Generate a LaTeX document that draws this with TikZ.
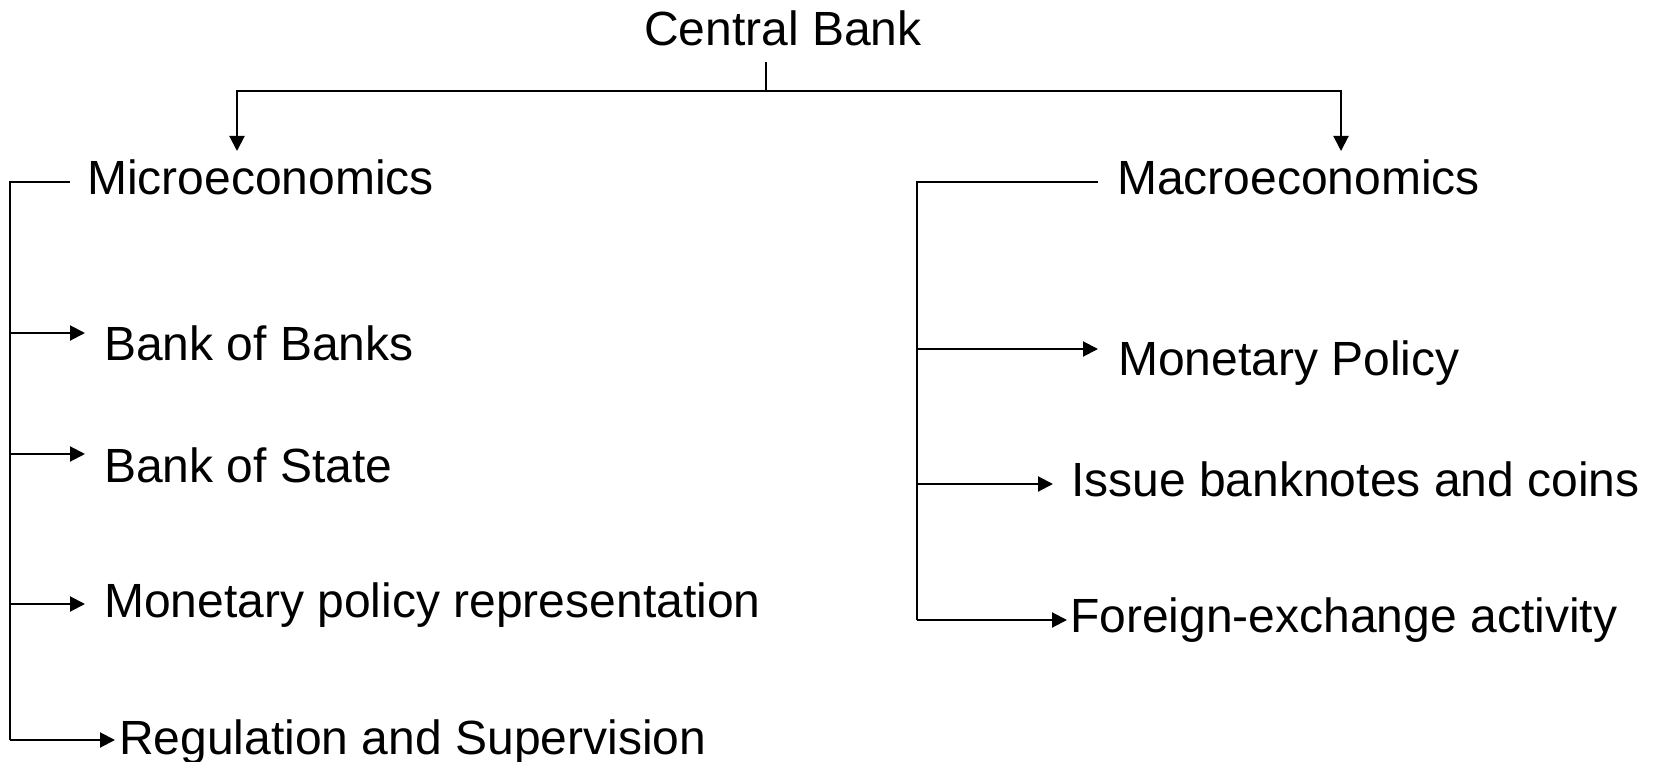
\documentclass[tikz,border=0pt]{standalone}
\usepackage{fontspec}
\setmainfont{Liberation Sans}
\usetikzlibrary{arrows.meta}
\begin{document}
\begin{tikzpicture}[x=1pt,y=-1pt,
  lbl/.style={anchor=base west,inner sep=0pt,font=\fontsize{48}{58}\selectfont},
  conn/.style={line width=2pt,line cap=butt,line join=miter},
  arr/.style={conn,-{Triangle[length=15pt,width=15pt]}}]
\useasboundingbox[fill=white] (0,0) rectangle (1656,762);
% texts
\node[lbl] (cb) at (644,46) {Central Bank};
\node[lbl] (micro) at (87,194) {Microeconomics};
\node[lbl] (macro) at (1117,194) {Macroeconomics};
\node[lbl] (bb) at (104,360) {Bank of Banks};
\node[lbl] (bs) at (104,482) {Bank of State};
\node[lbl] (mpr) at (104,617) {Monetary policy representation};
\node[lbl] (rs) at (119,754) {Regulation and Supervision};
\node[lbl] (mp) at (1118,375) {Monetary Policy};
\node[lbl] (ib) at (1071,496) {Issue banknotes and coins};
\node[lbl] (fx) at (1070,632) {Foreign-exchange activity};
% coordinates
\coordinate (cbt) at (766,62);
\coordinate (jn) at (766,91);
\coordinate (mic) at (237,151);
\coordinate (mac) at (1341,151);
\coordinate (lt) at (70,182);
\coordinate (lc) at (10,182);
\coordinate (l1) at (10,333);
\coordinate (l2) at (10,454);
\coordinate (l3) at (10,604);
\coordinate (l4) at (10,740);
\coordinate (t1) at (85,333);
\coordinate (t2) at (85,454);
\coordinate (t3) at (85,604);
\coordinate (t4) at (115,740);
\coordinate (rt) at (1098,182);
\coordinate (rc) at (917,182);
\coordinate (r1) at (917,349);
\coordinate (r2) at (917,484);
\coordinate (r3) at (917,620);
\coordinate (u1) at (1098,349);
\coordinate (u2) at (1053,484);
\coordinate (u3) at (1067,620);
% connectors
\draw[conn] (cbt) -- (jn);
\draw[arr] (jn) -| (mic);
\draw[arr] (jn) -| (mac);
\draw[conn] (lt) -- (lc) -- (l4);
\draw[arr] (l1) -- (t1);
\draw[arr] (l2) -- (t2);
\draw[arr] (l3) -- (t3);
\draw[arr] (l4) -- (t4);
\draw[conn] (rt) -- (rc) -- (r3);
\draw[arr] (r1) -- (u1);
\draw[arr] (r2) -- (u2);
\draw[arr] (r3) -- (u3);
\end{tikzpicture}
\end{document}
